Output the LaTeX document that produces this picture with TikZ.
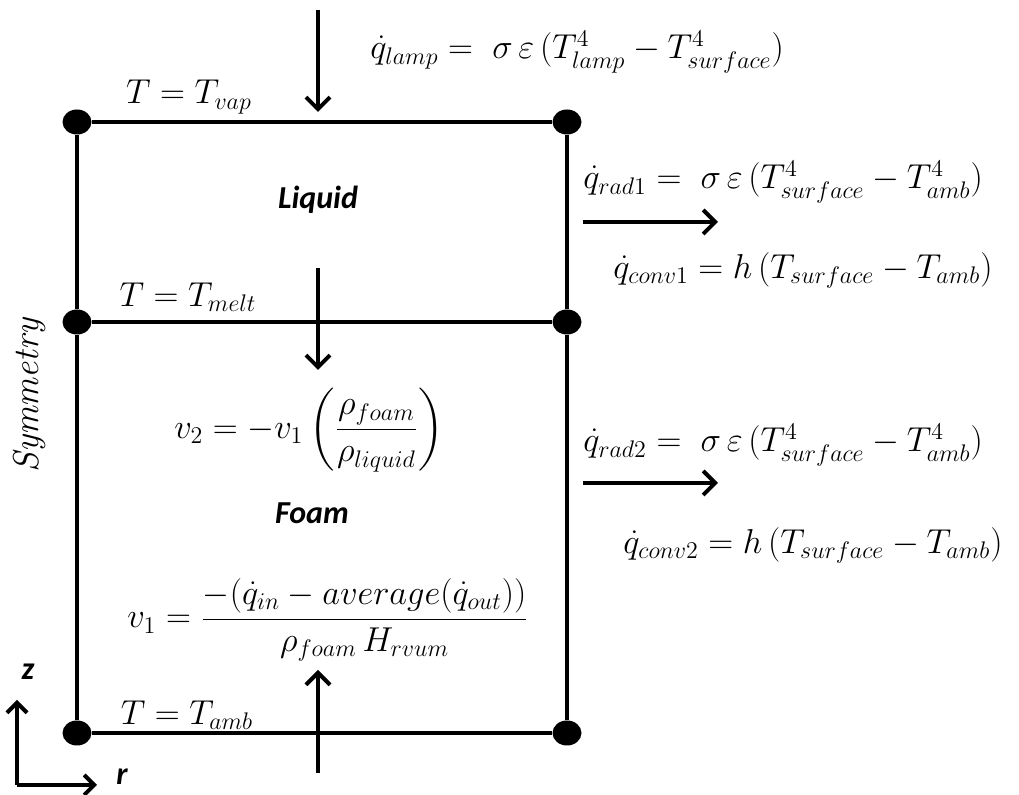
\documentclass[tikz,border=0pt]{standalone}
\usepackage{fontspec}
\setsansfont{Carlito}
\usepackage{amsmath}
\DeclareMathSizes{16}{16}{12.5}{10}
\usetikzlibrary{arrows.meta,positioning,shapes.geometric}

\begin{document}
\begin{tikzpicture}[
    x=0.5pt, y=-0.5pt,
    every node/.style={font=\fontsize{16}{19}\selectfont, inner sep=0pt},
    dot/.style={fill, ellipse, minimum width=14.5pt, minimum height=12.5pt},
    wall/.style={line width=2pt},
    flow/.style={-{Straight Barb[length=6pt, width=12pt]}, line width=2pt},
    phase/.style={font=\fontsize{16}{19}\selectfont\sffamily\bfseries\itshape}
]
\useasboundingbox (0,0) rectangle (1019,795);
% corners of the domain
\node[dot] (tl) at (77,122) {};
\node[dot] (tr) at (567,122) {};
\node[dot] (ml) at (77,322) {};
\node[dot] (mr) at (567,322) {};
\node[dot] (bl) at (77,733) {};
\node[dot] (br) at (567,733) {};
\draw[wall] (tl) -- (tr) -- (mr) -- (br) -- (bl) -- (ml) -- (tl);
\draw[wall] (ml) -- (mr);

% boundary conditions
\node (tvap) at (189,97) {$T = T_{vap}$};
\node (tmelt) at (188,297) {$T = T_{melt}$};
\node (tamb) at (187,715) {$T = T_{amb}$};
\node[rotate=90, font=\fontsize{18}{21}\selectfont] (sym) at (30,395) {\textit{Symmetry}};

% phases
\node[phase] (liquid) at (318,200) {Liquid};
\node[phase] (foam) at (312,513) {Foam};
\node (vtwo) at (309,430) {$v_2 = -v_1\left(\dfrac{\rho_{foam}}{\rho_{liquid}}\right)$};
\node (vone) at (328,620) {$v_1 = \dfrac{-(\dot q_{in} - average(\dot q_{out}))}{\rho_{foam}\,H_{rvum}}$};

% fluxes
\coordinate (lamp0) at (318,10);
\coordinate (lamp1) at (318,112);
\coordinate (melt0) at (318,268);
\coordinate (melt1) at (318,370);
\coordinate (in0) at (318,773);
\coordinate (in1) at (318,670);
\coordinate (rad0) at (583,222);
\coordinate (rad1) at (718,222);
\coordinate (radb0) at (583,483);
\coordinate (radb1) at (718,483);
\draw[flow] (lamp0) -- (lamp1);
\draw[flow] (melt0) -- (melt1);
\draw[flow] (in0) -- (in1);
\draw[flow] (rad0) -- (rad1);
\draw[flow] (radb0) -- (radb1);
\node[anchor=west] (qlamp) at (370,52) {$\dot q_{lamp} = \;\sigma\,\varepsilon\,(T_{lamp}^4 - T_{surface}^4)$};
\node[anchor=west] (qrad1) at (583,182) {$\dot q_{rad1} = \;\sigma\,\varepsilon\,(T_{surface}^4 - T_{amb}^4)$};
\node[anchor=west] (qconv1) at (613,270) {$\dot q_{conv1} = h\,(T_{surface} - T_{amb})$};
\node[anchor=west] (qrad2) at (583,445) {$\dot q_{rad2} = \;\sigma\,\varepsilon\,(T_{surface}^4 - T_{amb}^4)$};
\node[anchor=west] (qconv2) at (623,545) {$\dot q_{conv2} = h\,(T_{surface} - T_{amb})$};

% axes
\coordinate (orig) at (17,785);
\coordinate (zend) at (17,700);
\coordinate (rend) at (97,785);
\draw[flow, -{Straight Barb[length=5pt, width=10pt]}] (orig) -- (zend);
\draw[flow, -{Straight Barb[length=5pt, width=10pt]}] (orig) -- (rend);
\node[phase] (zlab) at (28,672) {z};
\node[phase] (rlab) at (122,777) {r};
\end{tikzpicture}
\end{document}
